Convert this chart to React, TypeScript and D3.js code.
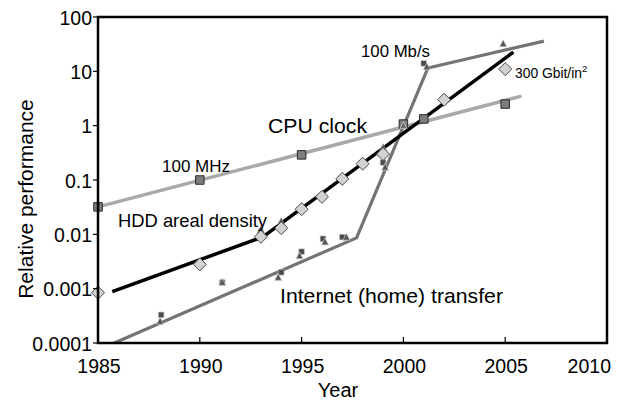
import React from "react";
import * as d3 from "d3";

const xTicks = [1985, 1990, 1995, 2000, 2005, 2010];
const yTicks = [0.0001, 0.001, 0.01, 0.1, 1, 10, 100];
const yTickLabels = ["0.0001", "0.001", "0.01", "0.1", "1", "10", "100"];

const cpuLineYears = [1985, 2005.8];
const cpuLineValues = [0.032, 3.5];
const cpuYears = [1985, 1990, 1995, 2000, 2001, 2005];
const cpuValues = [0.032, 0.1, 0.29, 1.07, 1.33, 2.5];

const hddLineYears = [1985.7, 1993.1, 2005.4];
const hddLineValues = [0.00088, 0.009, 22.6];
const hddYears = [1985, 1990, 1993, 1994, 1995, 1996, 1997, 1998, 1999, 2002, 2005];
const hddValues = [0.00084, 0.0028, 0.009, 0.013, 0.029, 0.049, 0.105, 0.2, 0.3, 3.0, 11];
const hddLabYears = [1993, 1994, 1999];
const hddLabValues = [0.012, 0.017, 0.39];

const netLineYears = [1985.8, 1997.7, 2001.2, 2006.9];
const netLineValues = [0.0001, 0.0086, 11.5, 36];
const netSquareYears = [1988.1, 1991.1, 1994, 1995, 1996.05, 1997, 1999, 2001];
const netSquareValues = [0.00033, 0.0013, 0.002, 0.0048, 0.0083, 0.0089, 0.21, 14];
const netTriangleYears = [1988.05, 1991.1, 1993.85, 1994.9, 1996.15, 1997.2, 1999.1, 2000, 2001.15, 2004.9];
const netTriangleValues = [0.00025, 0.0013, 0.0016, 0.004, 0.0072, 0.0088, 0.17, 1.0, 12, 32];

const FONT = "'Liberation Sans', Arial, Helvetica, sans-serif";

export default function App() {
  const left = 98, right = 607, top = 17, bottom = 343;
  const x = d3.scaleLinear().domain([1985, 2010]).range([left, right]);
  const y = d3.scaleLog().domain([0.0001, 100]).range([bottom, top]);
  const line = d3
    .line<[number, number]>()
    .x((d) => x(d[0]))
    .y((d) => y(d[1]));
  const zip = (a: number[], b: number[]) => a.map((v, i) => [v, b[i]] as [number, number]);

  const sq = (cx: number, cy: number, s: number) =>
    `M${cx - s / 2},${cy - s / 2}h${s}v${s}h${-s}Z`;
  const diamond = (cx: number, cy: number, r: number) =>
    `M${cx},${cy - r}L${cx + r},${cy}L${cx},${cy + r}L${cx - r},${cy}Z`;
  const tri = (cx: number, cy: number, s: number) =>
    `M${cx},${cy - s * 0.6}L${cx + s / 2},${cy + s * 0.4}L${cx - s / 2},${cy + s * 0.4}Z`;

  return (
    <svg
      width={623}
      height={403}
      style={{ position: "absolute", left: 0, top: 0, background: "#fff" }}
      fontFamily={FONT}
    >
      <rect x={0} y={0} width={623} height={403} fill="#fff" />
      {/* lines */}
      <path d={line(zip(cpuLineYears, cpuLineValues)) || ""} fill="none" stroke="#a9a9a9" strokeWidth={3.5} />
      <path d={line(zip(netLineYears, netLineValues)) || ""} fill="none" stroke="#747474" strokeWidth={3.2} strokeLinejoin="round" />
      <path d={line(zip(hddLineYears, hddLineValues)) || ""} fill="none" stroke="#000" strokeWidth={3.5} strokeLinejoin="round" />

      {/* internet markers */}
      {netSquareYears.map((yr, i) => (
        <path key={"ns" + i} d={sq(x(yr), y(netSquareValues[i]), 5.5)} fill="#4a4a4a" stroke="#bbb" strokeWidth={0.6} />
      ))}
      {netTriangleYears.map((yr, i) => (
        <path key={"nt" + i} d={tri(x(yr), y(netTriangleValues[i]), 7)} fill="#555" stroke="#ccc" strokeWidth={0.7} />
      ))}
      {hddLabYears.map((yr, i) => (
        <path key={"hl" + i} d={tri(x(yr), y(hddLabValues[i]), 7)} fill="#555" stroke="#999" strokeWidth={0.6} />
      ))}

      {/* CPU squares */}
      {cpuYears.map((yr, i) => (
        <path key={"c" + i} d={sq(x(yr), y(cpuValues[i]), 8.5)} fill="#7d7d7d" stroke="#2a2a2a" strokeWidth={1} />
      ))}
      {/* HDD diamonds */}
      {hddYears.map((yr, i) => (
        <path key={"h" + i} d={diamond(x(yr), y(hddValues[i]), 6.5)} fill="#d2d2d2" stroke="#4a4a4a" strokeWidth={1} />
      ))}
      {/* triangle drawn over CPU square at 2000 */}
      <path d={tri(x(netTriangleYears[7]), y(netTriangleValues[7]), 7)} fill="#666" stroke="#ddd" strokeWidth={0.7} />

      {/* frame */}
      <rect x={left} y={top} width={right - left} height={bottom - top} fill="none" stroke="#000" strokeWidth={2.5} />

      {/* x ticks */}
      {xTicks.map((t, i) => (
        <g key={"xt" + i}>
          {t > 1985 && t < 2010 && (
            <line x1={x(t)} x2={x(t)} y1={bottom} y2={bottom - 6} stroke="#000" strokeWidth={1.2} />
          )}
          <text
            x={t === 2010 ? 611 : x(t) + 1}
            y={373}
            fontSize={19.5}
            textAnchor={t === 2010 ? "end" : "middle"}
            fill="#000"
          >
            {t}
          </text>
        </g>
      ))}
      {/* y ticks */}
      {yTicks.map((t, i) => (
        <g key={"yt" + i}>
          <line x1={left} x2={left - 5} y1={y(t)} y2={y(t)} stroke="#000" strokeWidth={1.2} />
          <text x={92} y={y(t) + 7.5} fontSize={19.5} textAnchor="end" fill="#000">
            {yTickLabels[i]}
          </text>
        </g>
      ))}

      {/* axis titles */}
      <text x={338} y={397} fontSize={20} textAnchor="middle" fill="#000">Year</text>
      <text transform="translate(33,199) rotate(-90)" fontSize={21} textAnchor="middle" fill="#000">
        Relative performance
      </text>

      {/* annotations */}
      <text x={162} y={172} fontSize={16} fill="#000" textLength={68} lengthAdjust="spacingAndGlyphs">100 MHz</text>
      <text x={268} y={133} fontSize={21} fill="#000" textLength={99} lengthAdjust="spacingAndGlyphs">CPU clock</text>
      <text x={118} y={227} fontSize={19} fill="#000" textLength={149} lengthAdjust="spacingAndGlyphs">HDD areal density</text>
      <text x={280} y={303} fontSize={21} fill="#000" textLength={223} lengthAdjust="spacingAndGlyphs">Internet (home) transfer</text>
      <text x={361} y={57} fontSize={16} fill="#000" textLength={69} lengthAdjust="spacingAndGlyphs">100 Mb/s</text>
      <text x={515} y={78} fontSize={14} fill="#000">
        <tspan textLength={67} lengthAdjust="spacingAndGlyphs">300 Gbit/in</tspan>
        <tspan dy={-6} fontSize={9.5}>2</tspan>
      </text>
    </svg>
  );
}
